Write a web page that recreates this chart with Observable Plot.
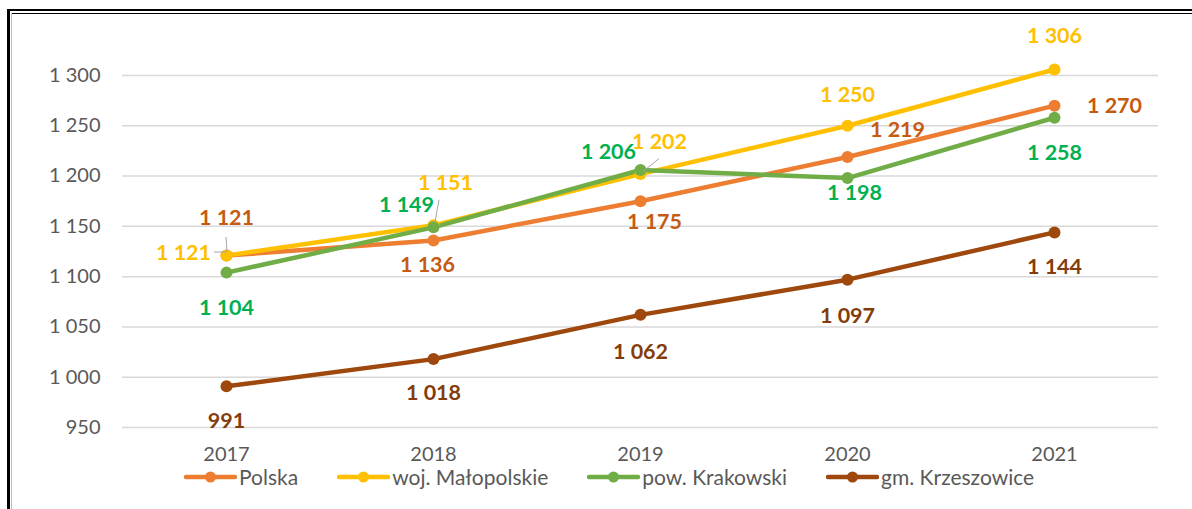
<!DOCTYPE html>
<html>
<head>
<meta charset="utf-8">
<script src="https://cdn.jsdelivr.net/npm/d3@7"></script>
<script src="https://cdn.jsdelivr.net/npm/@observablehq/plot@0.6"></script>
<style>
  html, body { margin: 0; padding: 0; background: #fff; }
  #wrap { position: relative; width: 1192px; height: 509px; overflow: hidden; font-family: Lato, "Open Sans", sans-serif; }
  #chart { position: absolute; left: 0; top: 0; }
  .frame { position: absolute; background: #000; }
  #legend { position: absolute; left: 184px; top: 464px; display: flex; align-items: center; font-size: 21px; color: #595959; }
  .item { display: flex; align-items: center; margin-right: 39px; }
  .item svg { margin-right: 2px; }
</style>
</head>
<body>
<div id="wrap">
  <div id="chart"></div>
  <div class="frame" style="left:7px; top:9px; width:1185px; height:2px;"></div>
  <div class="frame" style="left:11px; top:12.5px; width:1181px; height:1px;"></div>
  <div class="frame" style="left:7px; top:9px; width:3px; height:500px;"></div>
  <div class="frame" style="left:11px; top:13px; width:1px; height:496px; background:#bfbfbf;"></div>
  <div id="legend"></div>
</div>
<script>
// ---- data ----
const years = [2017, 2018, 2019, 2020, 2021];
const seriesNames = ["Polska", "woj. Małopolskie", "pow. Krakowski", "gm. Krzeszowice"];
const polska = [1121, 1136, 1175, 1219, 1270];
const wojMalopolskie = [1121, 1151, 1202, 1250, 1306];
const powKrakowski = [1104, 1149, 1206, 1198, 1258];
const gmKrzeszowice = [991, 1018, 1062, 1097, 1144];
const yTicks = [950, 1000, 1050, 1100, 1150, 1200, 1250, 1300];

// ---- styles (not data) ----
const lineColors = ["#ED7D31", "#FFC000", "#70AD47", "#9E480E"];
const labelColors = ["#C55A11", "#FFC000", "#00B050", "#843C0C"];
// label offsets in pixels [dx, dy] per series per year
const labelOffsets = [
  [[0, -37], [-6, 25], [14, 21], [50, -27], [60, 0]],
  [[-43, -2], [12, -42], [19, -32], [0, -31], [0, -33]],
  [[0, 35], [-27, -22], [-32, -18], [7, 15], [0, 35]],
  [[0, 35], [0, 34], [0, 37], [0, 36], [0, 35]]
];
// leader lines: [seriesIndex, yearIndex, dx1, dy1, dx2, dy2] pixel offsets from point
const leaders = [
  [0, 0, 0, -18, 1, -3],
  [1, 0, -12, -3, 0, -3],
  [1, 1, 6, -25, 2, -3],
  [1, 2, 19, -15, 3, -2]
];

const allSeries = [polska, wojMalopolskie, powKrakowski, gmKrzeszowice];
const rows = [];
allSeries.forEach((vals, si) => {
  vals.forEach((v, yi) => rows.push({series: seriesNames[si], si, yi, year: years[yi], value: v}));
});

const locale = d3.formatLocale({decimal: ",", thousands: "\u00a0", grouping: [3], currency: ["", ""]});
const fmt = locale.format(",");

const textMarks = rows.map(d => Plot.text([d], {
  x: "year", y: "value", text: r => fmt(r.value),
  dx: labelOffsets[d.si][d.yi][0], dy: labelOffsets[d.si][d.yi][1],
  fill: labelColors[d.si], fontWeight: "bold", fontSize: 21.5,
  fontFamily: "Lato, sans-serif"
}));

const chart = Plot.plot({
  width: 1192,
  height: 462,
  marginLeft: 122,
  marginRight: 34,
  marginTop: 75,
  marginBottom: 35,
  style: {fontFamily: "Lato, sans-serif", background: "transparent", overflow: "visible"},
  x: {type: "point", domain: years, padding: 0.5},
  y: {domain: [950, 1300]},
  color: {domain: seriesNames, range: lineColors},
  marks: [
    Plot.gridY(yTicks, {stroke: "#d9d9d9", strokeOpacity: 1, strokeWidth: 1.5}),
    Plot.axisY({ticks: yTicks, tickSize: 0, tickPadding: 22, tickFormat: fmt, fontSize: 20, fill: "#595959", label: null}),
    Plot.axisX({tickSize: 0, tickPadding: 19, tickFormat: d => String(d), fontSize: 20, fill: "#595959", label: null}),
    Plot.line(rows, {x: "year", y: "value", z: "series", stroke: "series", strokeWidth: 4.5, strokeLinecap: "round", strokeLinejoin: "round"}),
    Plot.dot(rows, {x: "year", y: "value", fill: "series", r: 6}),
    ...textMarks
  ]
});
document.getElementById("chart").appendChild(chart);

// leader lines through the chart's scales
const xs = chart.scale("x"), ys = chart.scale("y");
const svg = d3.select(chart);
leaders.forEach(([si, yi, dx1, dy1, dx2, dy2]) => {
  const px = xs.apply(years[yi]), py = ys.apply(allSeries[si][yi]);
  svg.append("line")
    .attr("x1", px + dx1).attr("y1", py + dy1)
    .attr("x2", px + dx2).attr("y2", py + dy2)
    .attr("stroke", "#a6a6a6").attr("stroke-width", 1);
});

// legend
const legend = document.getElementById("legend");
seriesNames.forEach((name, i) => {
  const item = document.createElement("div");
  item.className = "item";
  item.innerHTML = `<svg width="53" height="14"><line x1="2" y1="7" x2="51" y2="7" stroke="${lineColors[i]}" stroke-width="4.5" stroke-linecap="round"/><circle cx="26.5" cy="7" r="5.5" fill="${lineColors[i]}"/></svg><span>${name}</span>`;
  legend.appendChild(item);
});
</script>
</body>
</html>
